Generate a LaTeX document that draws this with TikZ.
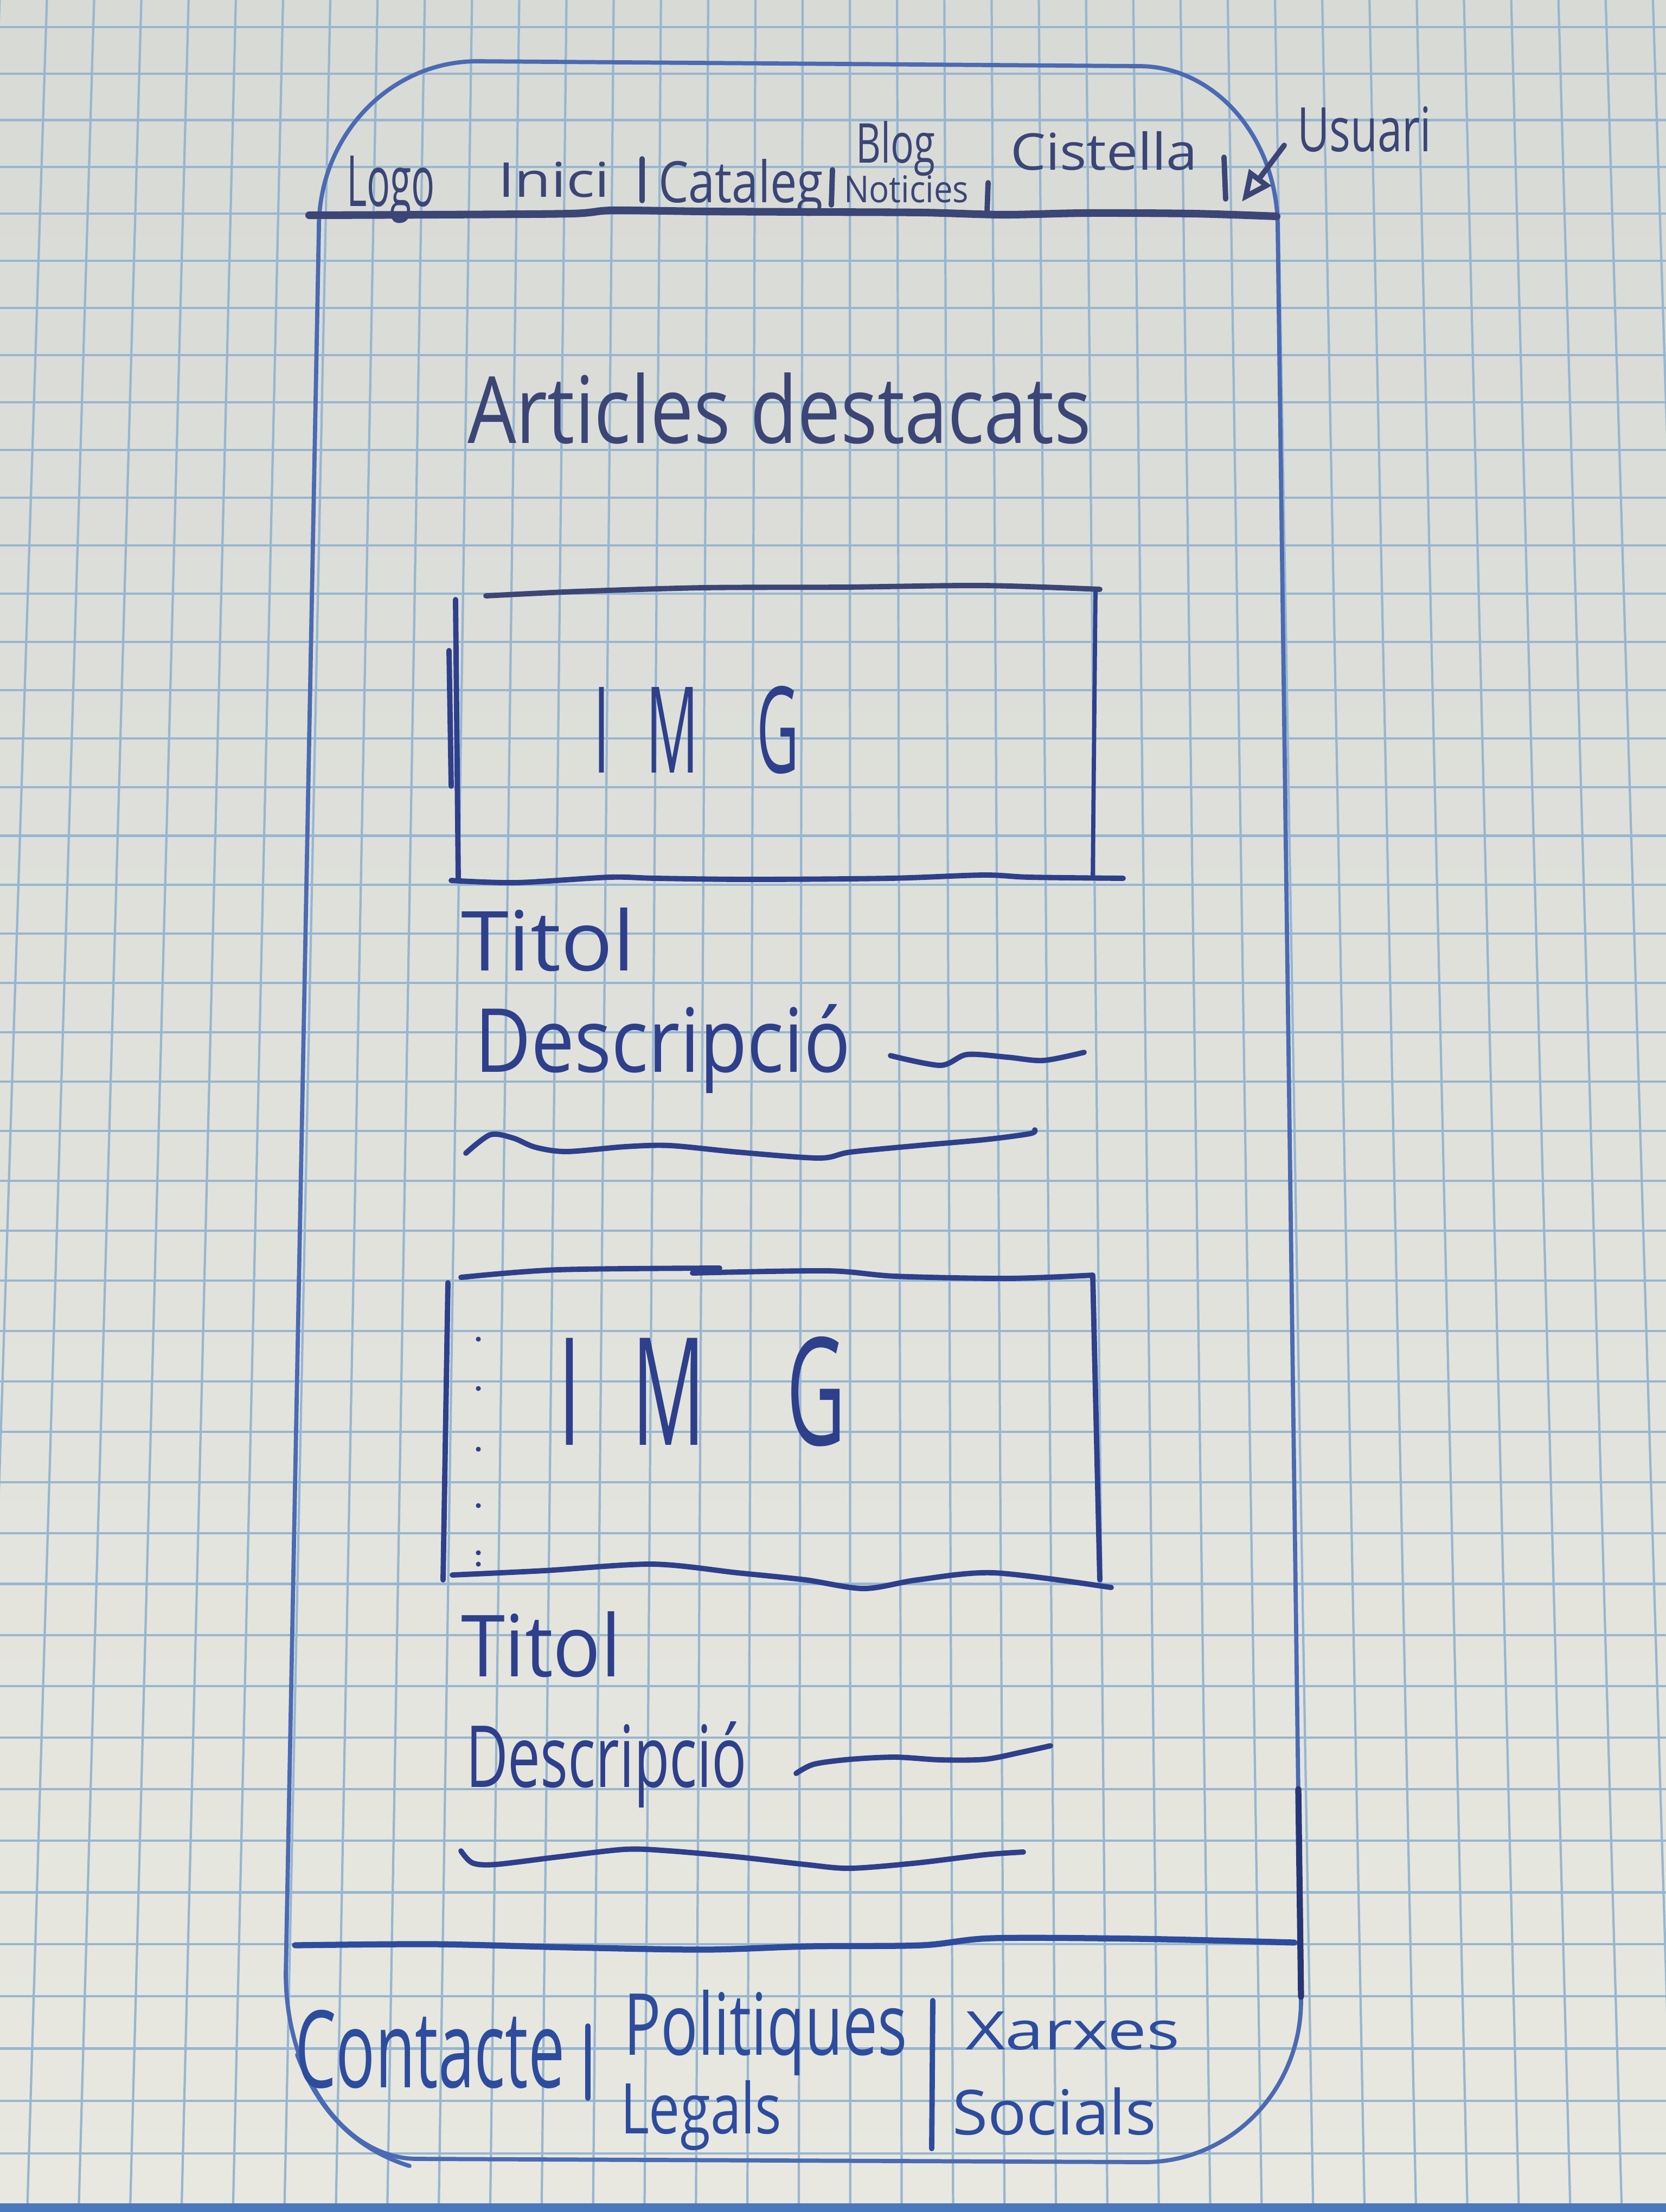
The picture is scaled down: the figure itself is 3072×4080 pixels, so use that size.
\documentclass[tikz,border=0pt]{standalone}
\usepackage{fontspec}
\setmainfont{Open Sans}
\usepackage{graphicx}
\usetikzlibrary{arrows.meta}
\definecolor{paperT}{HTML}{D8DAD6}
\definecolor{paperB}{HTML}{E8E8E0}
\definecolor{gridc}{HTML}{97B6D0}
\definecolor{bandc}{HTML}{4A78BE}
\definecolor{inkA}{HTML}{3B4576}
\definecolor{inkB}{HTML}{2E3F8C}
\definecolor{inkC}{HTML}{2D4C9E}
\definecolor{framec}{HTML}{4A6AB3}
\newcommand\fitt[3]{\resizebox{#1}{#2}{#3}}
\tikzset{
  gridln/.style={draw=gridc, line width=1.2pt},
  pen/.style={line width=2.8pt, line cap=round, line join=round},
  framepen/.style={draw=framec, line width=2.2pt, line cap=round, line join=round},
  lbl/.style={anchor=base west, inner sep=0pt, outer sep=0pt},
}
\begin{document}
\begin{tikzpicture}[x=0.01cm,y=-0.01cm]
\useasboundingbox (0,0) rectangle (3072,4080);
\clip (0,0) rectangle (3072,4080);
% paper
\shade[top color=paperT,bottom color=paperB] (0,0) rectangle (3072,4080);
% grid
\foreach \n in {-10,...,26}{
  \pgfmathsetmacro\xt{1560+(\n-7.918)*87.1}
  \pgfmathsetmacro\xb{1560+(\n-7.918)*94.85}
  \draw[gridln] (\xt,0) -- (\xb,4080);
}
\foreach \k in {0,...,44}{
  \pgfmathsetmacro\yy{50+85.47*\k+0.1333*\k*\k}
  \draw[gridln] (0,\yy) -- (3072,\yy);
}
\fill[bandc] (0,4064) rectangle (3072,4080);

% phone frame
\draw[framepen] (588,420) .. controls (588,250) and (719,113) .. (880,113)
  -- (2100,122) .. controls (2241,122) and (2356,255) .. (2356,420)
  -- (2399,3690) .. controls (2399,3855) and (2270,3988) .. (2110,3988)
  -- (770,3982) .. controls (636,3982) and (527,3829) .. (527,3640) -- cycle;
\draw[framepen] (548,3790) .. controls (590,3900) and (660,3965) .. (755,3995);
\draw[pen, draw=inkB!85!black, line width=3.2pt] (2394,3300) -- (2399,3683);

% header
\draw[pen, draw=inkA, line width=4pt] plot[smooth] coordinates
  {(570,397) (800,396) (1053,394) (1130,388) (1300,390) (1500,391) (1700,392) (1850,396) (2000,393) (2200,394) (2354,399)};
\node[lbl, text=inkA] (logo) at (639,380) {\fitt{1.63cm}{0.93cm}{Logo}};
\node[lbl, text=inkA] (inici) at (918,363) {\fitt{2.06cm}{0.65cm}{Inici}};
\node[lbl, text=inkA] (catal) at (1214,373) {\fitt{3.04cm}{0.80cm}{Cataleg}};
\node[lbl, text=inkA] (blog) at (1578,300) {\fitt{1.46cm}{0.77cm}{Blog}};
\node[lbl, text=inkA] (notic) at (1556,373) {\fitt{2.30cm}{0.50cm}{Noticies}};
\node[lbl, text=inkA] (cist) at (1863,313) {\fitt{3.45cm}{0.71cm}{Cistella}};
\node[lbl, text=inkA] (usuari) at (2392,279) {\fitt{2.47cm}{0.83cm}{Usuari}};
\draw[pen, draw=inkA] (1184,293) -- (1184,370);
\draw[pen, draw=inkA] (1535,313) -- (1533,378);
\draw[pen, draw=inkA] (1822,337) -- (1820,392);
\draw[pen, draw=inkA] (2257,290) -- (2260,367);
\coordinate (usrA) at (2368,268);
\coordinate (usrB) at (2290,372);
\draw[pen, draw=inkA, -{Triangle[open,length=16pt,width=14pt]}] (usrA) -- (usrB);

% title
\node[lbl, text=inkA] (artdest) at (862,817) {\fitt{11.49cm}{1.30cm}{Articles destacats}};

% box 1
\draw[pen, draw=inkA] plot[smooth] coordinates {(896,1099) (1064,1091) (1297,1084) (1555,1083) (1813,1080) (2028,1087)};
\draw[pen, draw=inkB] (840,1106) -- (845,1622);
\draw[pen, draw=inkB] (828,1200) -- (832,1450);
\draw[pen, draw=inkB, line width=2.2pt] (2020,1091) -- (2015,1618);
\draw[pen, draw=inkB] plot[smooth] coordinates {(832,1624) (952,1628) (1124,1618) (1210,1620) (1383,1622) (1641,1620) (1813,1614) (1899,1618) (2071,1620)};
\node[lbl, text=inkB] (img1) at (1094,1425) {\fitt{3.79cm}{1.60cm}{I\hspace{0.63em}M\hspace{1.0em}G}};
\node[lbl, text=inkB] (tit1) at (850,1790) {\fitt{3.20cm}{1.16cm}{Titol}};
\node[lbl, text=inkB] (desc1) at (875,1977) {\fitt{6.93cm}{1.25cm}{Descripció}};
\draw[pen, draw=inkB] plot[smooth] coordinates {(1642,1947) (1734,1965) (1783,1945) (1858,1950) (1924,1956) (1999,1941)};
\draw[pen, draw=inkB] plot[smooth] coordinates {(859,2127) (904,2093) (946,2099) (987,2116) (1045,2124) (1153,2115) (1236,2113) (1360,2125) (1510,2136) (1568,2125) (1692,2113) (1816,2102) (1899,2091) (1908,2084)};

% box 2
\draw[pen, draw=inkB] plot[smooth] coordinates {(850,2356) (1029,2342) (1327,2339)};
\draw[pen, draw=inkB] plot[smooth] coordinates {(1277,2348) (1526,2344) (1651,2354) (1858,2358) (2015,2352)};
\draw[pen, draw=inkB] (826,2366) -- (817,2914);
\draw[pen, draw=inkB] (2015,2354) -- (2028,2914);
\draw[pen, draw=inkB] plot[smooth] coordinates {(834,2905) (1004,2897) (1203,2885) (1360,2901) (1485,2914) (1593,2930) (1692,2914) (1833,2901) (2049,2928)};
\foreach \yd in {2470,2561,2673,2777,2864,2885}{\fill[inkB] (882,\yd) circle[radius=1.3pt];}
\node[lbl, text=inkB] (img2) at (1029,2665) {\fitt{5.30cm}{2.00cm}{I\hspace{0.63em}M\hspace{1.0em}G}};
\node[lbl, text=inkB] (tit2) at (850,3092) {\fitt{2.95cm}{1.20cm}{Titol}};
\node[lbl, text=inkB] (desc2) at (859,3296) {\fitt{5.18cm}{1.21cm}{Descripció}};
\draw[pen, draw=inkB] plot[smooth] coordinates {(1468,3271) (1501,3254) (1568,3245) (1651,3241) (1734,3246) (1816,3245) (1883,3232) (1937,3220)};
\draw[pen, draw=inkB] plot[smooth] coordinates {(850,3414) (871,3436) (913,3439) (1029,3425) (1153,3411) (1236,3414) (1360,3425) (1485,3439) (1568,3446) (1692,3436) (1816,3421) (1887,3416)};

% footer
\draw[pen, draw=inkC, line width=3.2pt] plot[smooth] coordinates
  {(544,3588) (800,3586) (1053,3592) (1300,3596) (1490,3590) (1700,3588) (1829,3575) (2096,3576) (2387,3583)};
\node[lbl, text=inkC] (contacte) at (544,3850) {\fitt{4.97cm}{1.43cm}{Contacte}};
\node[lbl, text=inkC] (polit) at (1150,3790) {\fitt{5.22cm}{1.20cm}{Politiques}};
\node[lbl, text=inkC] (legals) at (1144,3935) {\fitt{2.97cm}{0.98cm}{Legals}};
\node[lbl, text=inkC] (xarxes) at (1780,3780) {\fitt{3.95cm}{0.70cm}{Xarxes}};
\node[lbl, text=inkC] (socials) at (1756,3937) {\fitt{3.76cm}{0.87cm}{Socials}};
\draw[pen, draw=inkC] (1084,3737) -- (1084,3870);
\draw[pen, draw=inkC] (1720,3690) -- (1718,3963);
\end{tikzpicture}
\end{document}
